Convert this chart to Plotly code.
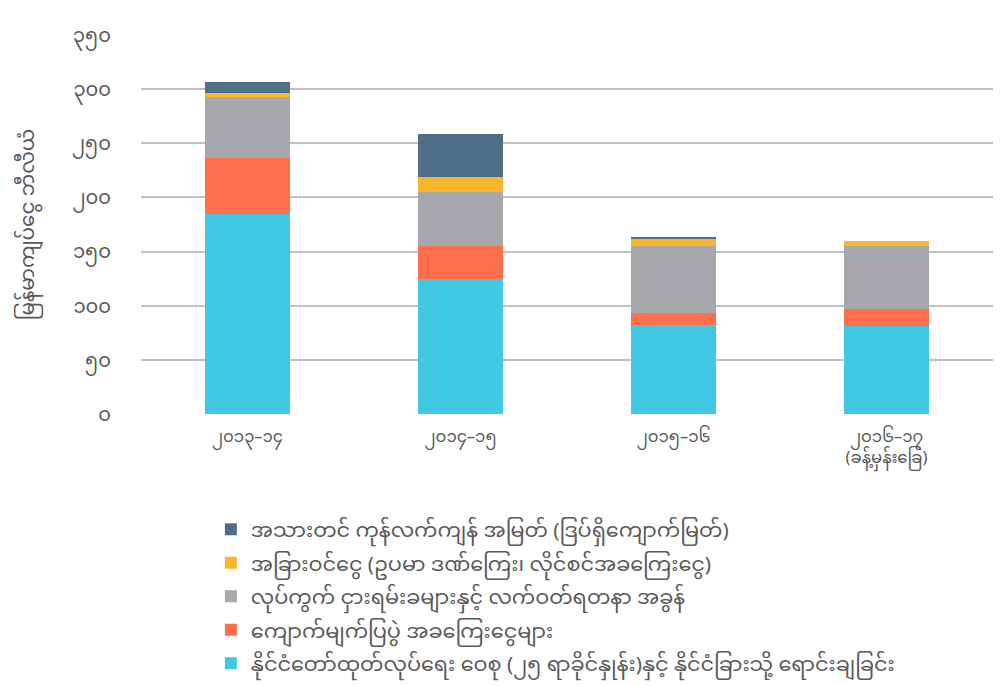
import plotly.graph_objects as go

categories = ["၂၀၁၃–၁၄", "၂၀၁၄–၁၅", "၂၀၁၅–၁၆", "၂၀၁၆–၁၇<br>(ခန့်မှန်းခြေ)"]

series_names = [
    "နိုင်ငံတော်ထုတ်လုပ်ရေး ဝေစု (၂၅ ရာခိုင်နှုန်း)နှင့် နိုင်ငံခြားသို့ ရောင်းချခြင်း",
    "ကျောက်မျက်ပြပွဲ အခကြေးငွေများ",
    "လုပ်ကွက် ငှားရမ်းခများနှင့် လက်ဝတ်ရတနာ အခွန်",
    "အခြားဝင်ငွေ (ဥပမာ ဒဏ်ကြေး၊ လိုင်စင်အခကြေးငွေ)",
    "အသားတင် ကုန်လက်ကျန် အမြတ် (ဒြပ်ရှိကျောက်မြတ်)",
]
state_share = [184.8, 124.5, 82.4, 81.7]
emporium_fees = [51.7, 30.7, 11.1, 15.4]
rent_tax = [56.2, 49.8, 62.1, 58.5]
other_income = [3.6, 14.0, 6.1, 4.3]
net_profit = [10.2, 39.6, 1.9, 0.0]

series_values = [state_share, emporium_fees, rent_tax, other_income, net_profit]
colors = ["#41C8E5", "#FF6F4B", "#A7A8AC", "#FBB52A", "#4F6F89"]

tick_vals = [0, 50, 100, 150, 200, 250, 300, 350]
tick_text = ["၀", "၅၀", "၁၀၀", "၁၅၀", "၂၀၀", "၂၅၀", "၃၀၀", "၃၅၀"]
y_title = "မြန်မာကျပ်ငွေ ဘီလီယံ"

FONT = "Noto Sans Myanmar, Padauk, Myanmar Text, Pyidaungsu, sans-serif"

fig = go.Figure()
n = len(series_names)
for i, (name, vals, col) in enumerate(zip(series_names, series_values, colors)):
    fig.add_trace(go.Bar(x=categories, y=vals, name=name, legendgroup=f"g{i}", legendrank=n - i,
                         marker=dict(color=col, line=dict(width=0))))

# page body has an 8px default margin, so the figure is sized to fit the window
fig.update_layout(
    barmode="stack",
    bargap=0.6,
    width=993, height=678,
    margin=dict(l=133, r=8, t=27, b=272, autoexpand=False),
    plot_bgcolor="white", paper_bgcolor="white",
    font=dict(family=FONT, color="#595959", size=16),
    xaxis=dict(showgrid=False, showline=False, ticks="", automargin=False, ticklabelstandoff=10,
               tickfont=dict(size=16.5, color="#595959")),
    yaxis=dict(range=[0, 350], tickvals=tick_vals, ticktext=tick_text, showgrid=True,
               gridcolor="#C0BFC4", gridwidth=2, zeroline=False, ticks="", ticklabelstandoff=29,
               automargin=False,
               title=dict(text=y_title, font=dict(size=20, color="#595959"), standoff=55),
               tickfont=dict(size=19.5, color="#595959")),
    legend=dict(orientation="v", traceorder="grouped", x=0.082, xanchor="left", y=-0.251, yanchor="top",
                font=dict(size=20.8, color="#595959"), itemwidth=30, tracegroupgap=3.5),
    showlegend=True,
)
fig.write_html("out.html")
